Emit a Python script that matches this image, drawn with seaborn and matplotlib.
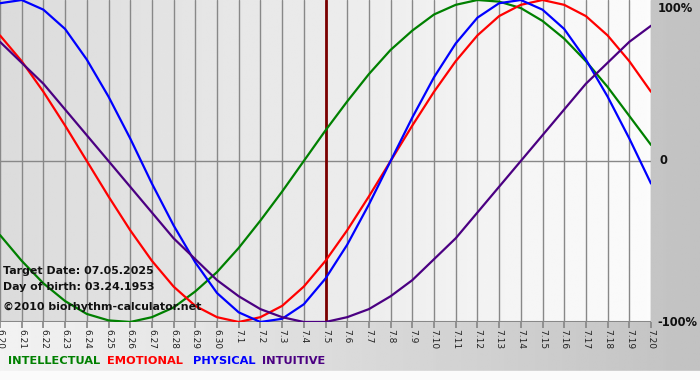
import matplotlib
matplotlib.use('Agg')
import matplotlib.pyplot as plt
import seaborn as sns
import numpy as np
import pandas as pd

# days shown: 6.20 .. 7.20 (target date 7.5 in the middle)
days = ['6.20', '6.21', '6.22', '6.23', '6.24', '6.25', '6.26', '6.27', '6.28', '6.29', '6.30',
        '7.1', '7.2', '7.3', '7.4', '7.5', '7.6', '7.7', '7.8', '7.9', '7.10',
        '7.11', '7.12', '7.13', '7.14', '7.15', '7.16', '7.17', '7.18', '7.19', '7.20']
target_day = '7.5'

# percent values, one per day
intellectual = [-46, -62, -76, -87, -95, -99, -100, -97, -91, -81, -69, -54, -37, -19,
                0, 19, 37, 54, 69, 81, 91, 97, 100, 99, 95, 87, 76, 62, 46, 28, 10]
emotional = [78, 62, 43, 22, 0, -22, -43, -62, -78, -90, -97, -100, -97, -90, -78, -62,
             -43, -22, 0, 22, 43, 62, 78, 90, 97, 100, 97, 90, 78, 62, 43]
physical = [98, 100, 94, 82, 63, 40, 14, -14, -40, -63, -82, -94, -100, -98, -89, -73,
            -52, -27, 0, 27, 52, 73, 89, 98, 100, 94, 82, 63, 40, 14, -14]
intuitive = [74, 61, 48, 32, 16, 0, -16, -32, -48, -61, -74, -84, -92, -97, -100, -100,
             -97, -92, -84, -74, -61, -48, -32, -16, 0, 16, 32, 48, 61, 74, 84]

names = ['INTELLECTUAL', 'EMOTIONAL', 'PHYSICAL', 'INTUITIVE']
colors = ['#008000', '#ff0000', '#0000ff', '#4b0082']

y_labels = ['100%', '0', '-100%']
y_values = [100, 0, -100]
info_lines = ['Target Date: 07.05.2025', 'Day of birth: 03.24.1953']
copyright_text = '\u00a92010 biorhythm-calculator.net'

sns.set_theme(style='white')
plt.rcParams['font.family'] = ['DejaVu Sans']

frames = []
for name, vals in zip(names, [intellectual, emotional, physical, intuitive]):
    frames.append(pd.DataFrame({'day': np.arange(len(days)), 'value': vals, 'rhythm': name}))
data = pd.concat(frames, ignore_index=True)

fig = plt.figure(figsize=(7, 3.8), dpi=100)

# figure background gradient
bg = fig.add_axes([0, 0, 1, 1], zorder=-10)
grad = np.tile(np.linspace(0.95, 0.76, 256), (64, 1))
bg.imshow(grad, cmap='gray', vmin=0, vmax=1, aspect='auto', extent=[0, 1, 0, 1])
bg.axhspan(0, 0.025, color='#fbfbfb')
bg.set_xlim(0, 1)
bg.set_ylim(0, 1)
bg.axis('off')

ax = fig.add_axes([0, 1 - 322 / 380, 651 / 700, 322 / 380])
n = len(days) - 1
grad2 = np.tile(np.linspace(0.86, 0.985, 256), (16, 1))
ax.imshow(grad2, cmap='gray', vmin=0, vmax=1, aspect='auto',
          extent=[0, n, -100, 100], zorder=0)

for i in range(len(days)):
    ax.axvline(i, color='#888888', lw=1, zorder=1)
ax.axhline(0, color='#888888', lw=1, zorder=1)
ax.axhline(-100, color='#888888', lw=1.5, zorder=1)
ax.axvline(days.index(target_day), color='#7a0000', lw=2, zorder=1)

sns.lineplot(data=data, x='day', y='value', hue='rhythm', palette=colors,
             hue_order=names, linewidth=1.6, legend=False, ax=ax, zorder=3)

ax.set_xlim(0, n)
ax.set_ylim(-100, 100)
ax.set_xticks(range(len(days)))
ax.set_xticklabels(days, rotation=270, fontsize=6.5, color='#222222')
ax.tick_params(axis='x', length=4, color='#888888', pad=1, direction='out', bottom=True)
ax.set_yticks([])
ax.set_xlabel('')
ax.set_ylabel('')
for s in ax.spines.values():
    s.set_visible(False)

for lab, v in zip(y_labels, y_values):
    ax.text(n + (0.3 if v != 0 else 0.4), v - (5.5 if v > 0 else 0), lab,
            fontsize=8.3, fontweight='bold', color='#111111',
            ha='left', va='center', clip_on=False)

ax.text(0.004, 1 - 271 / 380, info_lines[0], transform=fig.transFigure,
        fontsize=7.9, fontweight='bold', va='center', ha='left', zorder=5, color='#111111')
ax.text(0.004, 1 - 287 / 380, info_lines[1], transform=fig.transFigure,
        fontsize=7.9, fontweight='bold', va='center', ha='left', zorder=5, color='#111111')
ax.text(0.004, 1 - 307 / 380, copyright_text, transform=fig.transFigure,
        fontsize=7.9, fontweight='bold', va='center', ha='left', zorder=5, color='#111111')

# coloured legend words at the bottom
xpos = [8, 107, 193, 262]
for name, c, xp in zip(names, colors, xpos):
    fig.text(xp / 700, 1 - 361 / 380, name, color=c, fontsize=8.2,
             fontweight='bold', ha='left', va='center')

fig.savefig('out.png', dpi=100)
